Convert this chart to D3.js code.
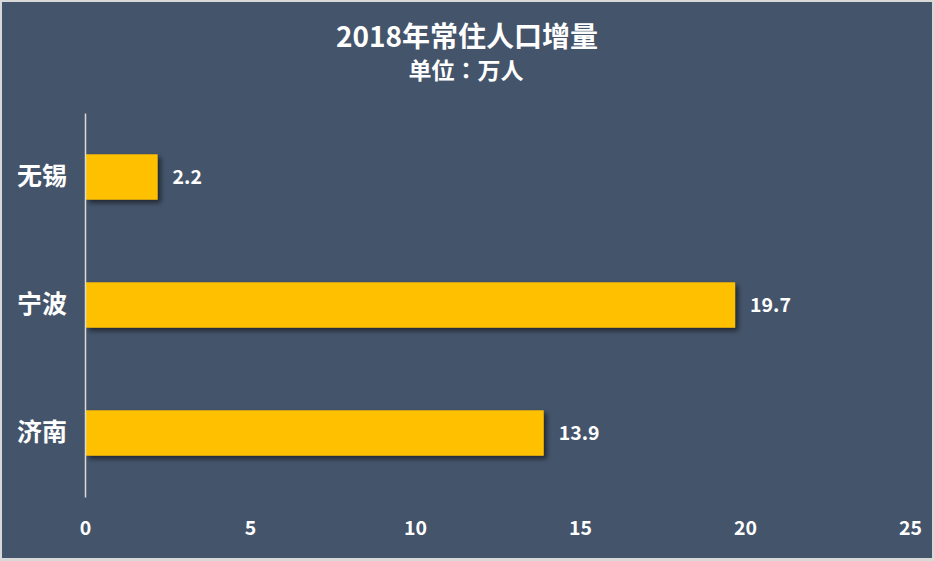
<!DOCTYPE html>
<html><head><meta charset="utf-8">
<script src="https://cdn.jsdelivr.net/npm/d3@7"></script>
<style>html,body{margin:0;padding:0;background:#fff;}svg{display:block;}</style>
</head><body>
<script>
const categories = ["无锡", "宁波", "济南"];
const values = [2.2, 19.7, 13.9];
const xTicks = [0, 5, 10, 15, 20, 25];
const title = "2018年常住人口增量";
const subtitle = "单位：万人";

const W = 934, H = 561;
const font = "'Noto Sans CJK SC', 'Open Sans', sans-serif";
const svg = d3.select("body").append("svg").attr("width", W).attr("height", H);

const defs = svg.append("defs");
const f = defs.append("filter").attr("id", "sh").attr("x", "-10%").attr("y", "-20%").attr("width", "130%").attr("height", "160%");
f.append("feDropShadow").attr("dx", 3).attr("dy", 3).attr("stdDeviation", 2.5).attr("flood-color", "#000").attr("flood-opacity", 0.55);

svg.append("rect").attr("width", W).attr("height", H).attr("fill", "#d9d9d9");
svg.append("rect").attr("x", 2).attr("y", 2).attr("width", W - 4).attr("height", H - 5).attr("fill", "#44546A");

const x = d3.scaleLinear().domain([0, 25]).range([85, 910]);
const y = d3.scaleBand().domain(categories).range([113, 497]).paddingInner(0.645).paddingOuter(0.3225);

svg.append("text").attr("x", 467).attr("y", 47).attr("text-anchor", "middle")
  .attr("fill", "#fff").attr("font-family", font).attr("font-weight", "bold").attr("font-size", 28).text(title);
svg.append("text").attr("x", 466).attr("y", 79).attr("text-anchor", "middle")
  .attr("fill", "#fff").attr("font-family", "'Noto Sans CJK JP', 'Noto Sans CJK SC', sans-serif").attr("font-weight", "bold").attr("font-size", 23).text(subtitle);

svg.selectAll("rect.bar").data(values).enter().append("rect").attr("class", "bar")
  .attr("x", x(0) + 1).attr("y", (d, i) => y(categories[i]))
  .attr("width", d => x(d) - x(0) - 1).attr("height", y.bandwidth())
  .attr("fill", "#FFC000").attr("filter", "url(#sh)");

svg.selectAll("text.val").data(values).enter().append("text").attr("class", "val")
  .attr("x", d => x(d) + 15).attr("y", (d, i) => y(categories[i]) + y.bandwidth() / 2)
  .attr("dy", "0.35em").attr("fill", "#fff").attr("font-family", font).attr("font-weight", "bold").attr("font-size", 19.5)
  .text(d => d.toFixed(1));

const yAxis = svg.append("g").attr("transform", `translate(${x(0)},0)`).call(d3.axisLeft(y).tickSize(0).tickPadding(18));
yAxis.select(".domain").attr("stroke", "#d9d9d9").attr("stroke-width", 1.5);
yAxis.selectAll("text").attr("fill", "#fff").attr("font-family", font).attr("font-weight", "bold").attr("font-size", 25);

const xAxis = svg.append("g").attr("transform", "translate(0,513)").call(d3.axisBottom(x).tickValues(xTicks).tickSize(0).tickPadding(8));
xAxis.select(".domain").remove();
xAxis.selectAll("text").attr("fill", "#fff").attr("font-family", font).attr("font-weight", "bold").attr("font-size", 19.5);
</script>
</body></html>
